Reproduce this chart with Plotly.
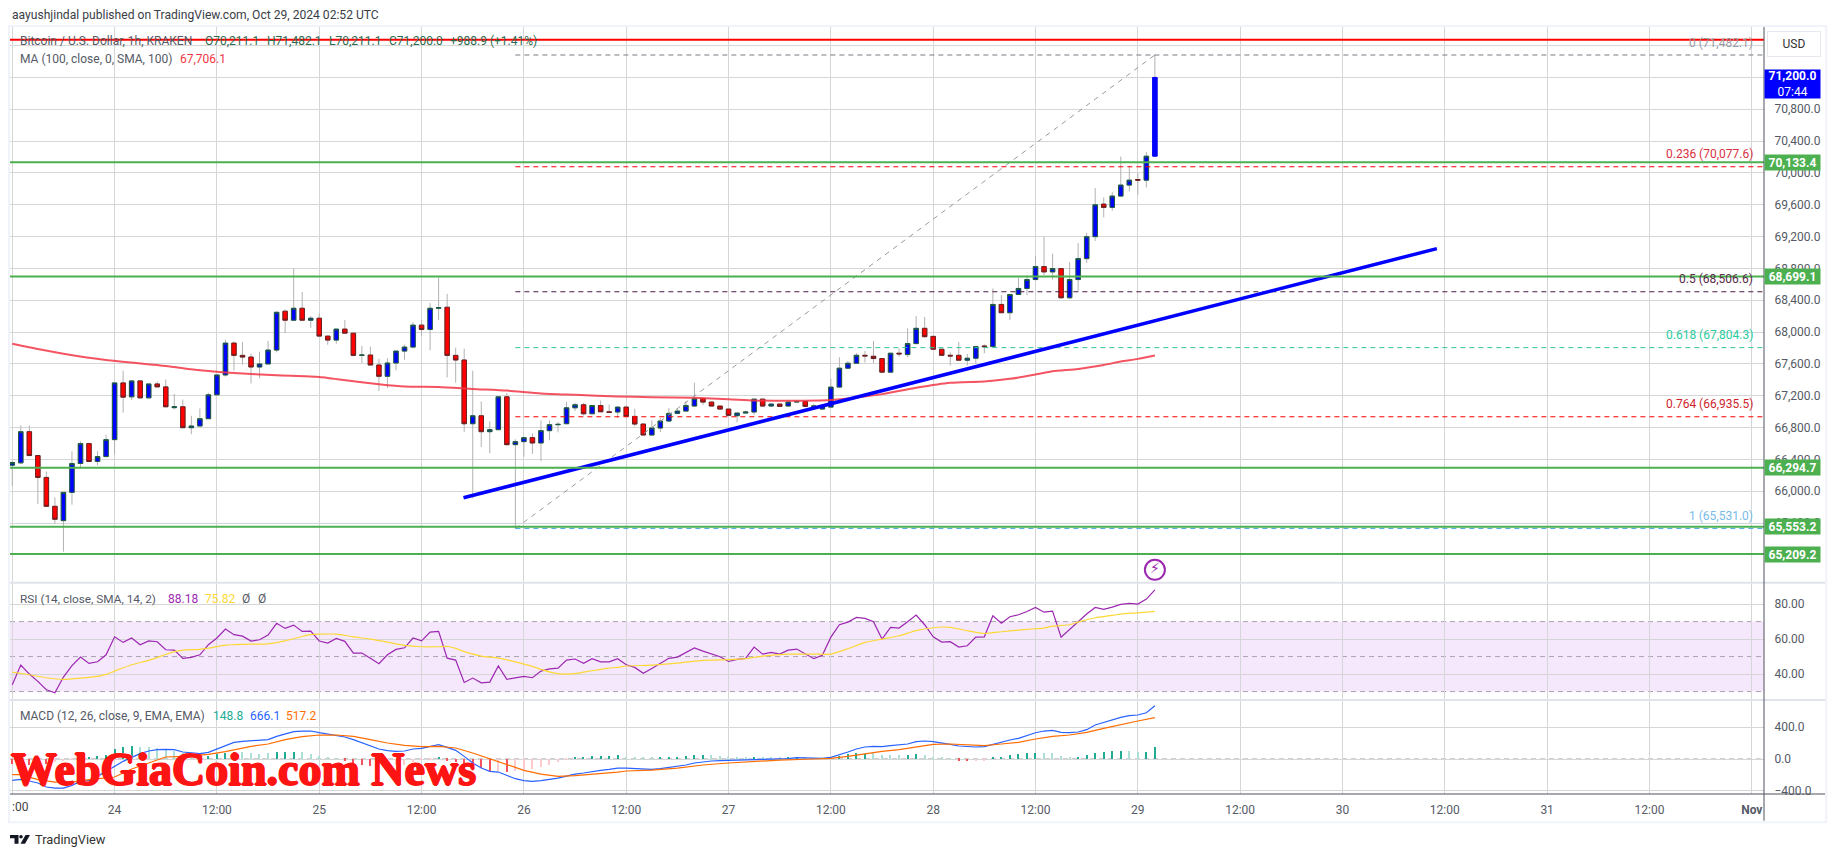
import pandas as pd
import plotly.graph_objects as go

# hourly bars, Oct 23 12:00 to Oct 29 02:00
bar_times = pd.date_range("2024-10-23 12:00", periods=135, freq="h")

opens = [
    66327, 66356, 66748, 66448, 66173, 65810, 65630, 65985, 66348, 66598,
    66373, 66435, 66648, 67361, 67186, 67386, 67173, 67348, 67311, 67050,
    67061, 66798, 66819, 66911, 67211, 67461, 67861, 67707, 67686, 67561,
    67599, 67774, 68262, 68149, 68299, 68149, 68174, 67949, 67899, 68037,
    67986, 67707, 67711, 67586, 67444, 67611, 67761, 67811, 68087, 68032,
    68299, 68312, 67707, 67649, 66848, 66948, 66748, 66773, 67186, 66585,
    66623, 66673, 66606, 66761, 66836, 66848, 67048, 67086, 66973, 67077,
    66998, 66995, 67057, 66940, 66844, 66706, 66794, 66882, 66978, 67007,
    67070, 67166, 67120, 67070, 67032, 66949, 66982, 66995, 67157, 67070,
    67095, 67070, 67120, 67128, 67066, 67032, 67057, 67308, 67546, 67608,
    67708, 67696, 67667, 67496, 67734, 67717, 67855, 68047, 67946, 67784,
    67708, 67708, 67646, 67671, 67825, 67817, 68347, 68243, 68472, 68548,
    68660, 68823, 68756, 68798, 68431, 68660, 68923, 69199, 69608, 69567,
    69709, 69847, 69917, 69909, 70211.1,
]
closes = [
    66360, 66748, 66448, 66173, 65810, 65647, 65985, 66348, 66598, 66373,
    66435, 66648, 67361, 67182, 67386, 67173, 67348, 67311, 67061, 67061,
    66798, 66819, 66911, 67211, 67461, 67861, 67707, 67686, 67561, 67599,
    67774, 68249, 68149, 68299, 68149, 68174, 67949, 67899, 68037, 67986,
    67707, 67711, 67586, 67444, 67611, 67761, 67811, 68087, 68032, 68299,
    68308, 67707, 67649, 66848, 66948, 66748, 66773, 67186, 66585, 66623,
    66673, 66606, 66761, 66836, 66840, 67048, 67086, 66973, 67077, 66998,
    66990, 67057, 66940, 66844, 66706, 66794, 66882, 66978, 67007, 67078,
    67166, 67120, 67070, 67032, 66953, 66982, 66995, 67157, 67070, 67095,
    67066, 67120, 67128, 67066, 67070, 67070, 67308, 67546, 67608, 67708,
    67700, 67667, 67496, 67734, 67726, 67855, 68047, 67942, 67784, 67708,
    67700, 67646, 67671, 67817, 67817, 68347, 68243, 68472, 68548, 68660,
    68823, 68756, 68798, 68431, 68660, 68923, 69199, 69600, 69567, 69709,
    69847, 69909, 69909, 70210, 71200,
]
highs = [
    66380, 66827, 66827, 66448, 66248, 65922, 65985, 66502, 66627, 66610,
    66502, 66710, 67361, 67515, 67386, 67386, 67348, 67378, 67403, 67223,
    67152, 66948, 67040, 67236, 67461, 67903, 67882, 67878, 67728, 67753,
    67891, 68249, 68287, 68800, 68504, 68203, 68237, 67949, 68037, 68153,
    67986, 67828, 67816, 67665, 67670, 67761, 67841, 68124, 68153, 68366,
    68687, 68479, 67803, 67790, 67515, 67127, 66877, 67186, 67236, 66652,
    66673, 66727, 66890, 66890, 66869, 67123, 67111, 67111, 67077, 67140,
    67090, 67057, 67074, 67036, 66844, 66890, 66919, 67045, 67045, 67128,
    67362, 67166, 67120, 67070, 67032, 66982, 67011, 67157, 67157, 67095,
    67095, 67149, 67149, 67128, 67099, 67070, 67412, 67683, 67637, 67734,
    67763, 67888, 67667, 67734, 67796, 68047, 68201, 68189, 67946, 67784,
    67746, 67875, 67725, 67817, 67846, 68548, 68464, 68472, 68685, 68715,
    68953, 69199, 68986, 68798, 68877, 69120, 69249, 69809, 69692, 69759,
    70206, 70089, 69997, 70265, 71482.1,
]
lows = [
    66068, 66339, 66448, 65839, 65810, 65589, 65240, 65831, 66285, 66373,
    66327, 66435, 66464, 66986, 67144, 67173, 67173, 67311, 67061, 67027,
    66798, 66715, 66819, 66911, 67211, 67440, 67515, 67590, 67353, 67419,
    67599, 67745, 67986, 68149, 68149, 68053, 67949, 67840, 67853, 67986,
    67695, 67611, 67586, 67257, 67298, 67519, 67653, 67795, 67953, 67770,
    68153, 67428, 67365, 66744, 65910, 66556, 66477, 66773, 66573, 65531,
    66435, 66469, 66377, 66640, 66740, 66848, 67007, 66952, 66973, 66998,
    66990, 66919, 66940, 66815, 66706, 66706, 66744, 66882, 66978, 67007,
    67070, 67082, 67070, 67032, 66953, 66865, 66982, 66961, 67070, 67070,
    67066, 67070, 67107, 67066, 67066, 67032, 67057, 67308, 67546, 67608,
    67617, 67608, 67496, 67496, 67692, 67683, 67855, 67930, 67784, 67708,
    67579, 67646, 67579, 67600, 67734, 67817, 68243, 68151, 68472, 68464,
    68660, 68715, 68660, 68418, 68418, 68518, 68869, 69145, 69441, 69525,
    69705, 69767, 69725, 69817, 70211.1,
]

# moving average, read at these bars
ma_bars = [0, 3, 6, 11, 18, 22, 26, 31, 36, 40, 43, 46, 50, 54, 58, 62, 66, 71,
           75, 80, 84, 87, 91, 96, 99, 102, 106, 110, 114, 117, 120, 122, 125, 128, 130, 132, 134]
ma_values = [67853, 67786, 67728, 67649, 67574, 67519, 67486, 67457, 67436, 67382, 67344, 67315,
             67311, 67286, 67265, 67228, 67211, 67190, 67182, 67174, 67157, 67141, 67136, 67145,
             67178, 67220, 67299, 67362, 67379, 67412, 67466, 67508, 67537, 67587, 67629, 67663, 67706.1]

rsi_values = [
    33.9, 45.1, 40.0, 35.8, 31.0, 29.3, 38.3, 44.8, 49.7, 46.1,
    47.0, 51.0, 61.3, 58.1, 60.6, 56.8, 59.0, 58.5, 53.9, 53.7,
    49.0, 49.5, 51.0, 56.8, 60.6, 65.7, 62.5, 61.7, 58.9, 59.6,
    62.3, 69.0, 66.1, 68.0, 64.4, 64.6, 58.9, 57.7, 60.4, 58.7,
    52.0, 52.0, 49.0, 45.9, 51.0, 54.1, 55.0, 60.6, 59.0, 64.0,
    64.4, 49.1, 48.0, 35.2, 37.7, 35.0, 35.4, 44.6, 37.0, 37.7,
    38.7, 37.9, 41.7, 43.0, 43.4, 48.0, 48.6, 46.1, 48.8, 47.0,
    47.0, 48.8, 45.3, 43.8, 40.4, 43.2, 46.3, 49.0, 49.7, 52.2,
    54.9, 53.1, 51.4, 49.9, 47.2, 48.4, 49.0, 55.4, 51.4, 52.4,
    51.4, 53.7, 54.3, 51.4, 48.8, 50.7, 61.1, 68.2, 69.7, 72.4,
    71.8, 69.9, 60.0, 66.7, 66.3, 69.9, 73.7, 68.2, 61.3, 58.3,
    58.5, 55.4, 56.2, 61.1, 61.3, 73.3, 69.1, 72.8, 73.9, 75.8,
    78.1, 75.4, 76.0, 61.1, 65.7, 70.1, 74.3, 78.1, 77.0, 78.3,
    79.8, 80.4, 80.0, 82.9, 88.18,
]
rsi_ma_bars = [0, 2, 4, 6, 8, 10, 11, 12, 14, 16, 18, 19, 20, 22, 23, 25, 26, 28, 30, 32, 34, 35, 36, 38,
               40, 42, 44, 46, 48, 50, 51, 52, 53, 55, 57, 59, 61, 62, 64, 65, 66, 68, 70, 71,
               72, 75, 78, 81, 84, 86, 88, 91, 94, 96, 98, 100, 102, 104, 106, 108, 109, 110, 112, 114,
               116, 118, 120, 121, 122, 124, 125, 127, 128, 130, 132, 134]
rsi_ma_values = [41.1, 39.6, 37.9, 37.0, 37.7, 38.7, 39.8, 41.7, 45.3, 47.8, 51.2, 52.8, 53.7, 54.1, 54.8,
                 56.6, 56.8, 57.1, 57.3, 59.0, 61.5, 62.5, 62.8, 62.8, 61.3, 60.0, 58.3, 56.4, 55.6, 55.6,
                 55.8, 54.7, 52.8, 50.3, 49.1, 47.0, 44.4, 42.7, 40.2, 40.0, 40.2, 41.9, 43.4, 43.8,
                 44.6, 45.1, 46.3, 47.8, 48.2, 48.8, 50.3, 51.4, 51.4, 51.4, 54.5, 58.1, 60.0, 61.9, 64.8,
                 66.5, 66.9, 66.7, 64.8, 63.2, 64.2, 65.1, 65.9, 66.3, 67.4, 68.2, 69.7, 72.2, 72.9, 74.3,
                 75.0, 75.82]

macd_values = [
    -267, -254, -275, -300, -350, -363, -363, -329, -279, -267,
    -217, -154, -83, -29, 21, 67, 100, 117, 121, 117,
    88, 75, 67, 83, 125, 175, 208, 221, 225, 229,
    242, 283, 308, 342, 350, 350, 329, 308, 292, 275,
    242, 204, 167, 125, 104, 96, 100, 125, 133, 158,
    179, 146, 108, 33, -50, -113, -154, -163, -204, -246,
    -271, -279, -271, -258, -238, -213, -188, -175, -154, -142,
    -129, -113, -113, -117, -129, -129, -121, -108, -92, -75,
    -50, -33, -25, -21, -17, -17, -17, -8, -8, -4,
    0, 4, 17, 17, 8, 8, 21, 50, 88, 125,
    150, 158, 154, 167, 175, 188, 217, 225, 217, 204,
    183, 163, 154, 150, 154, 183, 208, 238, 258, 292,
    329, 350, 358, 333, 329, 338, 367, 425, 458, 492,
    521, 542, 550, 579, 666.1,
]
signal_bars = [0, 1, 3, 5, 7, 9, 12, 14, 16, 18, 20, 23, 25, 28, 30, 32, 34, 36, 38, 40, 42, 44, 46, 48,
               50, 52, 54, 56, 58, 60, 62, 64, 66, 68, 70, 71, 72, 75, 78, 81, 84, 87, 90, 94, 96, 98,
               100, 102, 104, 106, 108, 110, 112, 114, 116, 118, 120, 122, 124, 126, 128, 130, 132, 134]
signal_values = [-196, -196, -258, -288, -288, -258, -225, -125, -50, 25, 33, 58, 92, 158, 188, 242, 279,
                 300, 300, 283, 242, 200, 171, 154, 158, 138, 75, 0, -71, -142, -188, -217, -208, -192,
                 -175, -163, -150, -138, -113, -75, -50, -33, -13, 0, 8, 33, 67, 96, 117, 150, 183, 188,
                 175, 167, 188, 208, 250, 283, 300, 333, 383, 433, 475, 517.2]
hist_values = [
    -60, -70, -75, -80, -60, -40, -30, -15, 10, 25,
    42, 55, 129, 150, 167, 150, 150, 137, 129, 104,
    80, 60, 40, 33, 62, 75, 87, 83, 75, 67,
    71, 87, 87, 87, 83, 67, 40, 20, 5, -20,
    -50, -70, -83, -80, -75, -70, -70, -40, -15, -3,
    29, -20, -40, -90, -90, -110, -154, -146, -162, -154,
    -133, -125, -104, -71, -42, -17, 17, 29, 42, 42,
    42, 54, 29, 29, 17, 17, 17, 29, 29, 42,
    54, 54, 54, 42, 17, 29, 17, 29, 29, 29,
    29, 29, 29, 17, 10, 8, 17, 42, 67, 79,
    67, 83, 54, 54, 54, 54, 67, 54, 25, 17,
    8, -21, -29, -29, -21, 17, 29, 54, 67, 79,
    79, 79, 79, 42, 29, 29, 54, 79, 92, 104,
    104, 104, 92, 92, 148.8,
]
# t teal, p pale teal, r red, n pale red
hist_kinds = ("rrrrrnnnttttttt" + "pppppppp" + "tttt" + "pppp" + "ttt" + "ppppp" + "rrrr" + "nnnnnnn" + "t"
              + "rrrrrr" + "n" + "r" + "nnnnnnn" + "tttttt" + "pppp" + "tttttt" + "ppppp" + "t" + "ppp" + "tt"
              + "pppp" + "tttt" + "pppp" + "tt" + "pppp" + "rr" + "nn" + "tttttt" + "pppp" + "tttttt" + "pp" + "tt")
hist_palette = {"t": "#22ab94", "p": "#acdfd7", "r": "#f7525f", "n": "#fccbcd"}

price_ticks = [65200 + 400 * k for k in range(17)]
# these three sit wholly behind the price tags and the USD button
price_tick_hidden = [65200, 71200, 71600]
price_tick_text = ["" if p in price_tick_hidden else format(p, ",.1f") for p in price_ticks]
rsi_ticks = [40, 60, 80]
macd_ticks = [-400, 0, 400]
macd_tick_text = ["\u2212400.0", "0.0", "400.0"]

time_ticks = pd.date_range("2024-10-23 12:00", periods=18, freq="12h")
time_labels = ["", "24", "12:00", "25", "12:00", "26", "12:00", "27", "12:00", "28", "12:00", "29",
               "12:00", "30", "12:00", "31", "12:00", "<b>Nov</b>"]

green_levels = [70133.4, 68699.1, 66294.7, 65553.2, 65209.2]
red_level = 71674
trend_x = ["2024-10-25 16:55", "2024-10-30 11:04"]
trend_y = [65917, 69049]

fib_levels = [0, 0.236, 0.5, 0.618, 0.764, 1]
fib_prices = [71482.1, 70077.6, 68506.6, 67804.3, 66935.5, 65531.0]
fib_line_colors = ["#787b86", "#ff0000", "#4a1a40", "#2fc49b", "#ff0000", "#55aeea"]
fib_text_colors = ["#9a9ca3", "#d9303f", "#5a2a4c", "#2bcb9f", "#d01f2c", "#78bce8"]
fib_start = bar_times[59]
flash_price = 65012

FONT = "Roboto"
GRID = "#d6d6d6"
AXIS = "#50535e"
WATERMARK = "#ff1414"

# pixel frame of the plot area
LEFT, RIGHT, TOP, BOTTOM = 10, 1763.7, 27, 794.3
PANE1, PANE2 = 583, 700.3


def px(x):
    return (x - LEFT) / (RIGHT - LEFT)


def py(y):
    return (BOTTOM - y) / (BOTTOM - TOP)


fig = go.Figure()

# wicks, then the bodies on top with their own border colour
fig.add_trace(go.Candlestick(
    x=bar_times, open=opens, high=highs, low=lows, close=closes, whiskerwidth=0,
    increasing=dict(line=dict(color="#b2b2b2", width=1), fillcolor="rgba(0,0,0,0)"),
    decreasing=dict(line=dict(color="#b2b2b2", width=1), fillcolor="rgba(0,0,0,0)"),
    xaxis="x", yaxis="y", showlegend=False, hoverinfo="skip"))

body_hi = [max(o, c) for o, c in zip(opens, closes)]
body_lo = [min(o, c) for o, c in zip(opens, closes)]
fig.add_trace(go.Candlestick(
    x=bar_times[:-1], open=opens[:-1], high=body_hi[:-1], low=body_lo[:-1], close=closes[:-1], whiskerwidth=0,
    increasing=dict(line=dict(color="#1d5c3f", width=1), fillcolor="#0000ff"),
    decreasing=dict(line=dict(color="#6b2020", width=1), fillcolor="#ff0000"),
    xaxis="x", yaxis="y", showlegend=False, hoverinfo="skip"))
fig.add_trace(go.Candlestick(
    x=bar_times[-1:], open=opens[-1:], high=body_hi[-1:], low=body_lo[-1:], close=closes[-1:], whiskerwidth=0,
    increasing=dict(line=dict(color="#0000ff", width=1), fillcolor="#0000ff"),
    xaxis="x", yaxis="y", showlegend=False, hoverinfo="skip"))

fig.add_trace(go.Scatter(x=bar_times[ma_bars], y=ma_values, mode="lines", xaxis="x", yaxis="y",
                         line=dict(color="rgba(242,54,69,0.85)", width=2, shape="spline", smoothing=0.6),
                         showlegend=False, hoverinfo="skip"))

# fib levels and the dashed diagonal
fig.add_trace(go.Scatter(x=[fib_start, bar_times[-1]], y=[fib_prices[-1], fib_prices[0]], mode="lines",
                         xaxis="x", yaxis="y", line=dict(color="#9a9a9a", width=1, dash="5px,5px"),
                         showlegend=False, hoverinfo="skip"))
for price, color in zip(fib_prices, fib_line_colors):
    fig.add_trace(go.Scatter(x=[fib_start, "2024-11-01 01:26"], y=[price, price], mode="lines",
                             xaxis="x", yaxis="y", line=dict(color=color, width=1, dash="5px,4px"),
                             showlegend=False, hoverinfo="skip"))

fig.add_trace(go.Scatter(x=trend_x, y=trend_y, mode="lines", xaxis="x", yaxis="y",
                         line=dict(color="#0000ff", width=3.5), showlegend=False, hoverinfo="skip"))

fig.add_trace(go.Scatter(x=bar_times[-1:], y=[flash_price], mode="markers+text", text=["\u26a1"],
                         textposition="middle center", textfont=dict(family="DejaVu Sans", size=14, color="#9c27b0"),
                         marker=dict(symbol="circle", size=20, color="white", line=dict(color="#9c27b0", width=2)),
                         xaxis="x", yaxis="y", showlegend=False, hoverinfo="skip", cliponaxis=False))

# RSI pane
fig.add_trace(go.Scatter(x=bar_times, y=rsi_values, mode="lines", xaxis="x", yaxis="y2",
                         line=dict(color="#9c27b0", width=1.2), showlegend=False, hoverinfo="skip"))
fig.add_trace(go.Scatter(x=bar_times[rsi_ma_bars], y=rsi_ma_values, mode="lines", xaxis="x", yaxis="y2",
                         line=dict(color="#fdd835", width=1.2, shape="spline", smoothing=0.5),
                         showlegend=False, hoverinfo="skip"))

# MACD pane
fig.add_trace(go.Bar(x=bar_times, y=hist_values, width=504000, xaxis="x", yaxis="y3",
                     marker=dict(color=[hist_palette[k] for k in hist_kinds], line=dict(width=0)),
                     showlegend=False, hoverinfo="skip"))
fig.add_trace(go.Scatter(x=bar_times, y=macd_values, mode="lines", xaxis="x", yaxis="y3",
                         line=dict(color="#2962ff", width=1.2), showlegend=False, hoverinfo="skip"))
fig.add_trace(go.Scatter(x=bar_times[signal_bars], y=signal_values, mode="lines", xaxis="x", yaxis="y3",
                         line=dict(color="#ff6d00", width=1.2), showlegend=False, hoverinfo="skip"))

shapes = []
# RSI band and dashed rules
shapes.append(dict(type="rect", xref="paper", x0=0, x1=1, yref="y2", y0=30, y1=70,
                   fillcolor="rgba(160,50,240,0.11)", line_width=0, layer="below"))
for level in [30, 50, 70]:
    shapes.append(dict(type="line", xref="paper", x0=0, x1=1, yref="y2", y0=level, y1=level, layer="below",
                       line=dict(color="#a8a4ae", width=1, dash="5px,4px")))
shapes.append(dict(type="line", xref="paper", x0=0, x1=1, yref="y3", y0=0, y1=0, layer="below",
                   line=dict(color="#9a9ca3", width=1, dash="5px,4px")))
for price in green_levels:
    shapes.append(dict(type="line", xref="paper", x0=0, x1=1, yref="y", y0=price, y1=price,
                       line=dict(color="#4caf50", width=2)))
shapes.append(dict(type="line", xref="paper", x0=0, x1=1, yref="y", y0=red_level, y1=red_level,
                   line=dict(color="#ff0000", width=2)))

# frame, pane dividers, axes
for pane_y in [PANE1, PANE2]:
    shapes.append(dict(type="line", xref="paper", yref="paper", x0=0, x1=px(1825), y0=py(pane_y), y1=py(pane_y),
                       line=dict(color="#e0e3eb", width=2)))
shapes.append(dict(type="rect", xref="paper", yref="paper", x0=px(1764.5), x1=px(1824), y0=py(799), y1=py(795.2),
                   fillcolor="white", line_width=0))
shapes.append(dict(type="line", xref="paper", yref="paper", x0=0, x1=px(1825), y0=py(BOTTOM), y1=py(BOTTOM),
                   line=dict(color=AXIS, width=1)))
shapes.append(dict(type="line", xref="paper", yref="paper", x0=1, x1=1, y0=py(821), y1=1,
                   line=dict(color=AXIS, width=1)))
shapes.append(dict(type="rect", xref="paper", yref="paper", x0=px(9), x1=px(1826), y0=py(822.5), y1=py(26),
                   line=dict(color="#f0f3fa", width=2), fillcolor="rgba(0,0,0,0)"))

# TradingView mark
logo = "M {a} {b} L {c} {b} L {c} {d} L {e} {d} L {e} {f} L {a} {f} Z".format(
    a=px(10), b=py(835.2), c=px(18.5), d=py(844), e=px(14.5), f=py(838.6))
shapes.append(dict(type="path", xref="paper", yref="paper", path=logo, fillcolor="#131722", line_width=0))
shapes.append(dict(type="circle", xref="paper", yref="paper", x0=px(19.2), x1=px(22.8), y0=py(838.8), y1=py(835.2),
                   fillcolor="#131722", line_width=0))
slash = "M {a} {b} L {c} {b} L {d} {e} L {f} {e} Z".format(
    a=px(25.5), b=py(835.2), c=px(30), d=px(25), e=py(844), f=px(20.5))
shapes.append(dict(type="path", xref="paper", yref="paper", path=slash, fillcolor="#131722", line_width=0))

notes = []


def label(x, y, text, color="#555a66", size=12, anchor="left", **kw):
    notes.append(dict(xref="paper", yref="paper", x=px(x), y=py(y), text=text, showarrow=False,
                      xanchor=anchor, yanchor="middle", font=dict(family=FONT, size=size, color=color), **kw))


def tag(price, text):
    notes.append(dict(xref="paper", yref="y", x=px(1764), y=price, text="<b>%s</b>" % text, showarrow=False,
                      xanchor="left", yanchor="middle", bgcolor="#4caf50", width=55, height=15, borderpad=0,
                      align="center", font=dict(family=FONT, size=12, color="white")))


label(10, 15, "aayushjindal published on TradingView.com, Oct 29, 2024 02:52 UTC", color="#3a3d46", size=12.1)
label(18, 41.5, "Bitcoin / U.S. Dollar, 1h, KRAKEN", size=12)
for x, text in zip([203, 265, 327, 386.7, 448],
                   ["O70,211.1", "H71,482.1", "L70,211.1", "C71,200.0", "+988.9 (+1.41%)"]):
    label(x, 41.5, text, color="#2e6b4f", size=12)
label(18, 59, "MA (100, close, 0, SMA, 100)", size=12)
label(178, 59, "67,706.1", color="#f23645", size=12)
label(18, 599, "RSI (14, close, SMA, 14, 2)", size=11.8)
label(166, 599, "88.18", color="#9c27b0", size=12)
label(203, 599, "75.82", color="#fdd835", size=12)
label(240, 599, "\u00d8", size=12)
label(256, 599, "\u00d8", size=12)
label(18, 716, "MACD (12, 26, close, 9, EMA, EMA)", size=12)
label(211, 716, "148.8", color="#22ab94", size=12)
label(247.5, 716, "666.1", color="#2962ff", size=12)
label(284, 716, "517.2", color="#ff6d00", size=12)
label(10, 807, ":00", color="#444", size=12)
label(33, 839.5, "TradingView", color="#333", size=12.8)
label(9, 769.5, "<b>WebGiaCoin.com News</b>", color=WATERMARK, size=46)
notes[-1]["font"].update(
    family="Liberation Serif",
    shadow="1px 0 %s, -1px 0 %s, 0 1px %s, 0 -1px %s" % (WATERMARK, WATERMARK, WATERMARK, WATERMARK))

for lev, price, color in zip(fib_levels, fib_prices, fib_text_colors):
    notes.append(dict(xref="paper", yref="y", x=px(1755), y=price, yshift=12.5, showarrow=False,
                      xanchor="right", yanchor="middle", text="%s (%s)" % (lev, format(price, ",.1f")),
                      font=dict(family=FONT, size=12, color=color)))

for price in green_levels:
    tag(price, format(price, ",.1f"))

notes.append(dict(xref="paper", yref="y", x=px(1764), y=closes[-1], yshift=-6.5, text="<b>71,200.0</b><br>07:44",
                  showarrow=False, xanchor="left", yanchor="middle", bgcolor="#0000ff", width=55, height=28,
                  borderpad=0, align="center", font=dict(family=FONT, size=12, color="white")))
notes.append(dict(xref="paper", yref="paper", x=px(1767), y=py(44.5), text="USD", showarrow=False, xanchor="left",
                  yanchor="middle", bgcolor="white", bordercolor="#e6e8ef", borderwidth=1, borderpad=0,
                  width=52, height=24, font=dict(family=FONT, size=12, color="#333")))

axis_font = dict(family=FONT, size=12, color="#555a66")
y_common = dict(side="right", anchor="x", showgrid=True, gridcolor=GRID, gridwidth=1, zeroline=False,
                ticks="outside", ticklen=7, tickcolor="rgba(0,0,0,0)", tickfont=axis_font, showline=False)

fig.update_layout(
    width=1835, height=857, autosize=False,
    margin=dict(l=LEFT, r=1835 - RIGHT, t=TOP, b=857 - BOTTOM, pad=0),
    paper_bgcolor="white", plot_bgcolor="white",
    showlegend=False, boxgap=0.25, bargap=0, barmode="overlay",
    shapes=shapes, annotations=notes,
    xaxis=dict(type="date", anchor="y3", range=["2024-10-23 11:44", "2024-11-01 01:26"],
               tickmode="array", tickvals=time_ticks, ticktext=time_labels, showgrid=True, gridcolor=GRID,
               gridwidth=1, ticks="outside", ticklen=5, tickcolor="rgba(0,0,0,0)", tickfont=axis_font,
               zeroline=False, showline=False, rangeslider=dict(visible=False)),
    yaxis=dict(domain=[py(PANE1), 1], range=[64849, 71834], tickmode="array", tickvals=price_ticks,
               ticktext=price_tick_text, **y_common),
    yaxis2=dict(domain=[py(PANE2), py(PANE1)], range=[25.14, 92.2], tickmode="array", tickvals=rsi_ticks,
                tickformat=".2f", **y_common),
    yaxis3=dict(domain=[0, py(PANE2)], range=[-437.5, 737.5], tickmode="array", tickvals=macd_ticks,
                ticktext=macd_tick_text, **y_common),
)

fig.write_html("out.html", post_script="document.body.style.margin='0'", config={"displayModeBar": False})
